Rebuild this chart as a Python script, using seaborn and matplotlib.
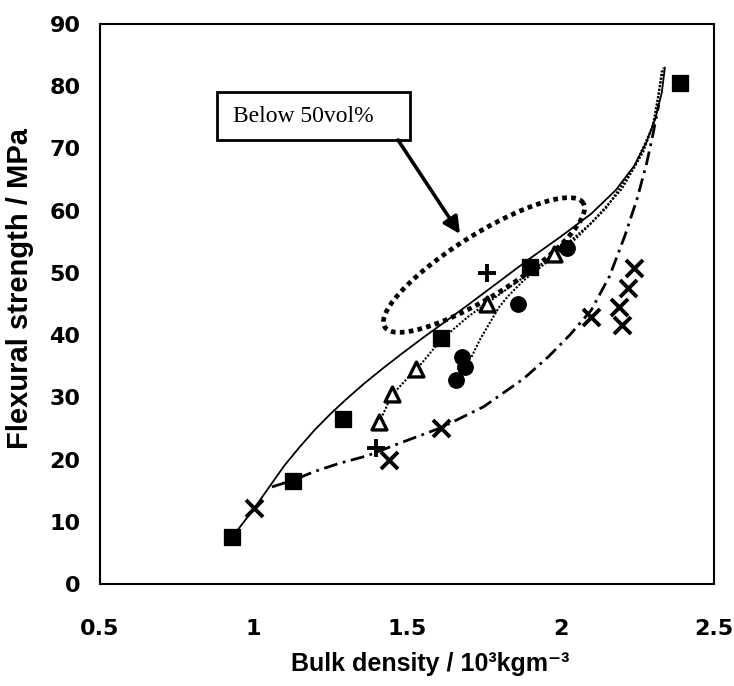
import numpy as np
import pandas as pd
import matplotlib
matplotlib.use("Agg")
import matplotlib.pyplot as plt
import seaborn as sns
from matplotlib.patches import Rectangle

# ---------------- data ----------------
sq_x = [0.93, 1.13, 1.29, 1.61, 1.90, 2.39]
sq_y = [7.5, 16.5, 26.5, 39.5, 51.0, 80.5]

tri_x = [1.41, 1.45, 1.53, 1.76, 1.98]
tri_y = [26.0, 30.5, 34.5, 45.0, 53.0]

circ_x = [1.66, 1.68, 1.69, 1.86, 2.02]
circ_y = [32.8, 36.5, 34.9, 45.0, 54.0]

cross_x = [1.00, 1.44, 1.61, 2.10, 2.19, 2.20, 2.22, 2.24]
cross_y = [12.2, 19.9, 25.0, 42.9, 44.5, 41.6, 47.6, 50.8]

plus_x = [1.40, 1.76]
plus_y = [21.9, 50.0]

# fitted curves
curveA_x = [0.93, 1.00, 1.05, 1.10, 1.15, 1.20, 1.25, 1.30, 1.36, 1.42, 1.48, 1.55, 1.62, 1.70,
            1.80, 1.90, 2.00, 2.10, 2.18, 2.24, 2.28, 2.31, 2.33, 2.34]
curveA_y = [7.5, 12.0, 15.5, 19.0, 22.0, 24.8, 27.3, 29.6, 32.2, 34.6, 36.9, 39.5, 42.0, 44.9,
            48.6, 52.3, 55.8, 59.5, 63.3, 67.2, 71.0, 75.0, 79.0, 83.0]

curveB_x = [1.06, 1.13, 1.20, 1.28, 1.37, 1.48, 1.61, 1.75, 1.88, 1.96, 2.03, 2.10, 2.16, 2.21,
            2.25, 2.28, 2.30, 2.32]
curveB_y = [15.6, 16.7, 18.1, 19.4, 20.6, 22.7, 25.1, 28.5, 33.0, 36.5, 40.0, 44.0, 49.5, 56.0,
            62.0, 67.5, 72.0, 77.0]

curveC_x = [1.41, 1.45, 1.50, 1.55, 1.61, 1.70, 1.80, 1.90, 2.00, 2.10, 2.20, 2.27, 2.31, 2.33]
curveC_y = [26.0, 30.3, 33.0, 35.6, 39.2, 43.0, 46.5, 50.0, 53.8, 58.0, 63.5, 69.5, 75.0, 82.5]

curveD_x = [1.71, 1.74, 1.77, 1.80, 1.83, 1.88, 1.95, 2.05, 2.15, 2.24, 2.30, 2.335]
curveD_y = [36.5, 39.5, 42.0, 44.5, 46.3, 48.8, 51.5, 55.5, 60.5, 67.0, 73.5, 83.0]

x_ticks = [0.5, 1.0, 1.5, 2.0, 2.5]
x_tick_labels = ["0.5", "1", "1.5", "2", "2.5"]
y_ticks = [0, 10, 20, 30, 40, 50, 60, 70, 80, 90]

annotation_text = "Below 50vol%"
x_label = "Bulk density / 10\u00b3kgm\u207b\u00b3"
y_label = "Flexural strength / MPa"

# ---------------- figure ----------------
sns.set_style("white")
plt.rcParams["font.family"] = ["Liberation Sans", "DejaVu Sans"]
plt.rcParams["text.color"] = "black"
plt.rcParams["axes.labelcolor"] = "black"

W, H = 734, 686
fig = plt.figure(figsize=(W / 100, H / 100), dpi=100)
ax = fig.add_axes([100 / W, 1 - 584 / H, 614 / W, 560 / H])

def curve_df(x, y):
    return pd.DataFrame({"x": x, "y": y})

sns.lineplot(data=curve_df(curveA_x, curveA_y), x="x", y="y", sort=False, estimator=None,
             color="black", lw=1.3, ax=ax)
sns.lineplot(data=curve_df(curveB_x, curveB_y), x="x", y="y", sort=False, estimator=None,
             color="black", lw=2.0, linestyle=(0, (5, 2, 1, 2)), ax=ax)
sns.lineplot(data=curve_df(curveC_x, curveC_y), x="x", y="y", sort=False, estimator=None,
             color="black", lw=1.5, linestyle=(0, (1, 0.8)), ax=ax)
sns.lineplot(data=curve_df(curveD_x, curveD_y), x="x", y="y", sort=False, estimator=None,
             color="black", lw=1.5, linestyle=(0, (1, 0.8)), ax=ax)

sns.scatterplot(x=sq_x, y=sq_y, marker="s", s=135, color="black", edgecolor="black", ax=ax, zorder=5)
sns.scatterplot(x=circ_x, y=circ_y, marker="o", s=125, color="black", edgecolor="black", ax=ax, zorder=5)
sns.scatterplot(x=tri_x, y=tri_y, marker="^", s=115, facecolor="white", edgecolor="black",
                linewidth=2.4, ax=ax, zorder=5)
sns.scatterplot(x=cross_x, y=cross_y, marker="x", s=150, color="black", linewidth=2.8, ax=ax, zorder=5)
sns.scatterplot(x=plus_x, y=plus_y, marker="+", s=150, color="black", linewidth=2.8, ax=ax, zorder=5)

ax.set_xlim(0.5, 2.5)
ax.set_ylim(0, 90)
ax.set_xticks(x_ticks)
ax.set_xticklabels(x_tick_labels)
ax.set_yticks(y_ticks)
for sp in ax.spines.values():
    sp.set_visible(True)
    sp.set_color("black")
    sp.set_linewidth(1.5)
ax.tick_params(axis="both", direction="in", length=6, width=1.3, colors="black",
               labelcolor="black")
ax.tick_params(axis="x", pad=25)
ax.tick_params(axis="y", pad=14)
for lab in ax.get_xticklabels() + ax.get_yticklabels():
    lab.set_fontweight("bold")
    lab.set_fontsize(16)
    lab.set_family(["DejaVu Sans"])

ax.set_xlabel(x_label, fontsize=18, fontweight="bold", color="black")
ax.set_ylabel(y_label, fontsize=21, fontweight="bold", color="black")
ax.xaxis.set_label_coords(0.537, -0.122)
ax.yaxis.set_label_coords(-0.108, 0.527)

# ---------------- annotation: dotted ellipse ----------------
aw, ah = 614.0, 560.0
cx, cy = (484 - 100) / aw, (584 - 265) / ah
a_px, b_px, ang = 117.0, 31.0, np.deg2rad(32)
t = np.linspace(0, 2 * np.pi, 400)
ex = (a_px * np.cos(t) * np.cos(ang) - b_px * np.sin(t) * np.sin(ang)) / aw + cx
ey = (a_px * np.cos(t) * np.sin(ang) + b_px * np.sin(t) * np.cos(ang)) / ah + cy
ax.plot(ex, ey, transform=ax.transAxes, color="black", lw=3.4, linestyle=(0, (1, 0.9)), zorder=4)

# ---------------- annotation: box + arrow ----------------
bx0, bx1 = (217 - 100) / aw, (410 - 100) / aw
by0, by1 = (584 - 140) / ah, (584 - 92) / ah
ax.add_patch(Rectangle((bx0, by0), bx1 - bx0, by1 - by0, transform=ax.transAxes,
                       facecolor="white", edgecolor="black", lw=2.0, zorder=6))
ax.text((233 - 100) / aw, (584 - 117) / ah, annotation_text, transform=ax.transAxes,
        ha="left", va="center", fontsize=17, family=["Liberation Serif", "DejaVu Serif"], zorder=7)
ax.annotate("", xy=((460 - 100) / aw, (584 - 234) / ah), xycoords="axes fraction",
            xytext=((398 - 100) / aw, (584 - 140) / ah), textcoords="axes fraction",
            arrowprops=dict(arrowstyle="-|>,head_length=1.0,head_width=0.5", color="black", lw=2.6,
                            shrinkA=0, shrinkB=0), zorder=7)

fig.savefig("out.png", dpi=100, facecolor="white")
